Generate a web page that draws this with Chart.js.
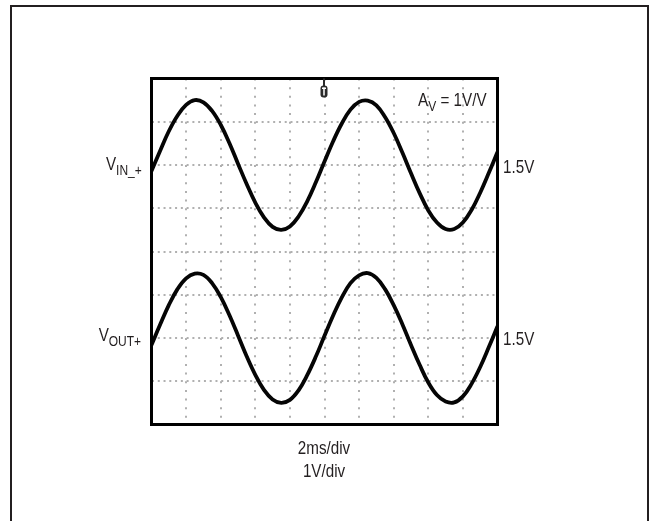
<!DOCTYPE html>
<html><head><meta charset="utf-8">
<script src="https://cdn.jsdelivr.net/npm/chart.js@4.4.1/dist/chart.umd.min.js"></script>
<style>
html,body{margin:0;padding:0;background:#fff;}
#wrap{position:relative;width:650px;height:521px;overflow:hidden;background:#fff;}
#frame{position:absolute;left:10px;top:5px;width:635px;height:700px;border:2px solid #231f20;}
canvas{position:absolute;left:0;top:0;}
.lbl{position:absolute;font-family:'Liberation Sans','Arimo',Arial,sans-serif;font-size:19px;line-height:19px;color:#231f20;white-space:nowrap;transform:scaleX(0.8);}
.r{transform-origin:100% 50%;}
.l{transform-origin:0 50%;}
.lbl sub{font-size:15px;vertical-align:baseline;position:relative;top:5px;}
.ctr{text-align:center;line-height:23px;transform-origin:50% 50%;}
</style></head>
<body><div id="wrap"><div id="frame"></div><canvas id="c" width="650" height="521"></canvas>
<div class="lbl r" style="right:508px;top:154px">V<sub>IN_+</sub></div>
<div class="lbl r" style="right:509px;top:325px">V<sub>OUT+</sub></div>
<div class="lbl l" style="left:503px;top:157px">1.5V</div>
<div class="lbl l" style="left:503px;top:329px">1.5V</div>
<div class="lbl r" style="right:163px;top:90px">A<sub>V</sub> = 1V/V</div>
<div class="lbl ctr" style="left:224px;width:200px;top:436px">2ms/div<br>1V/div</div>
</div>
<script>
// time axis (ms), 2 ms/div, 10 divisions
const timeMs = [0,0.5,1,1.5,2,2.5,3,3.5,4,4.5,5,5.5,6,6.5,7,7.5,8,8.5,9,9.5,10,10.5,11,11.5,12,12.5,13,13.5,14,14.5,15,15.5,16,16.5,17,17.5,18,18.5,19,19.5,20];
// input trace (V)
const vinVolts = [1.36,1.83,2.28,2.64,2.89,3.00,2.95,2.75,2.43,2.01,1.53,1.06,0.63,0.29,0.07,0.00,0.08,0.31,0.66,1.10,1.58,2.05,2.46,2.78,2.96,2.99,2.88,2.61,2.24,1.79,1.31,0.85,0.45,0.17,0.02,0.02,0.17,0.46,0.86,1.32,1.80];
// output trace (V)
const voutVolts = [1.34,1.81,2.26,2.63,2.88,2.99,2.96,2.77,2.45,2.03,1.56,1.08,0.65,0.30,0.08,0.00,0.07,0.29,0.64,1.07,1.55,2.02,2.44,2.77,2.95,3.00,2.89,2.63,2.26,1.82,1.34,0.88,0.47,0.18,0.03,0.01,0.15,0.44,0.83,1.29,1.77];
// graticule divisions
const xDivTicks = [0,2,4,6,8,10,12,14,16,18,20];
const yDivTicks = [-4,-3,-2,-1,0,1,2,3,4];
const triggerMs = 10;

const scopeFrame = {
  id:'scopeFrame',
  afterDatasetsDraw(chart){
    const {ctx, chartArea:a} = chart;
    ctx.save();
    ctx.lineWidth = 3;
    ctx.strokeStyle = '#000';
    ctx.strokeRect(a.left, a.top, a.right - a.left, a.bottom - a.top);
    // trigger marker
    const tx = Math.round(chart.scales.x.getPixelForValue(triggerMs)) - 1;
    ctx.fillStyle = '#2a2a2a';
    ctx.fillRect(tx - 1, a.top, 2, 8);
    ctx.beginPath();
    if (ctx.roundRect) ctx.roundRect(tx - 3.5, a.top + 7, 7, 12, 3); else ctx.rect(tx - 3.5, a.top + 7, 7, 12);
    ctx.fill();
    ctx.fillStyle = '#fff';
    ctx.fillRect(tx - 2, a.top + 9, 4, 1.5);
    ctx.fillRect(tx - 0.75, a.top + 9, 1.5, 8);
    ctx.restore();
  }
};

const mk = (vals) => timeMs.map((t, i) => ({x: t, y: vals[i]}));
const trace = {pointRadius:0, borderWidth:3.8, borderColor:'#050505', tension:0.4, fill:false};

new Chart(document.getElementById('c'), {
  type:'line',
  data:{datasets:[
    Object.assign({label:'VIN_+', data:mk(vinVolts), yAxisID:'yIn'}, trace),
    Object.assign({label:'VOUT+', data:mk(voutVolts), yAxisID:'yOut'}, trace)
  ]},
  options:{
    responsive:false, devicePixelRatio:1, animation:false,
    layout:{padding:{left:151.5, right:152.5, top:78.5, bottom:96.5}},
    plugins:{legend:{display:false}, tooltip:{enabled:false}},
    scales:{
      x:{type:'linear', min:0, max:20,
        afterBuildTicks:(s)=>{s.ticks = xDivTicks.map(v=>({value:v}));},
        afterFit:(s)=>{s.height = 0;},
        ticks:{display:false},
        grid:{color:'#b0b0b0', lineWidth:2, drawTicks:false},
        border:{display:false, dash:[2,6.65]}},
      yGrid:{type:'linear', position:'left', min:-4, max:4,
        afterBuildTicks:(s)=>{s.ticks = yDivTicks.map(v=>({value:v}));},
        afterFit:(s)=>{s.width = 0;},
        ticks:{display:false},
        grid:{color:'#b0b0b0', lineWidth:2, drawTicks:false},
        border:{display:false, dash:[2,3.77]}},
      yIn:{type:'linear', display:false, min:-4.5, max:3.5},
      yOut:{type:'linear', display:false, min:-0.5, max:7.5}
    }
  },
  plugins:[scopeFrame]
});
</script>
</body></html>
